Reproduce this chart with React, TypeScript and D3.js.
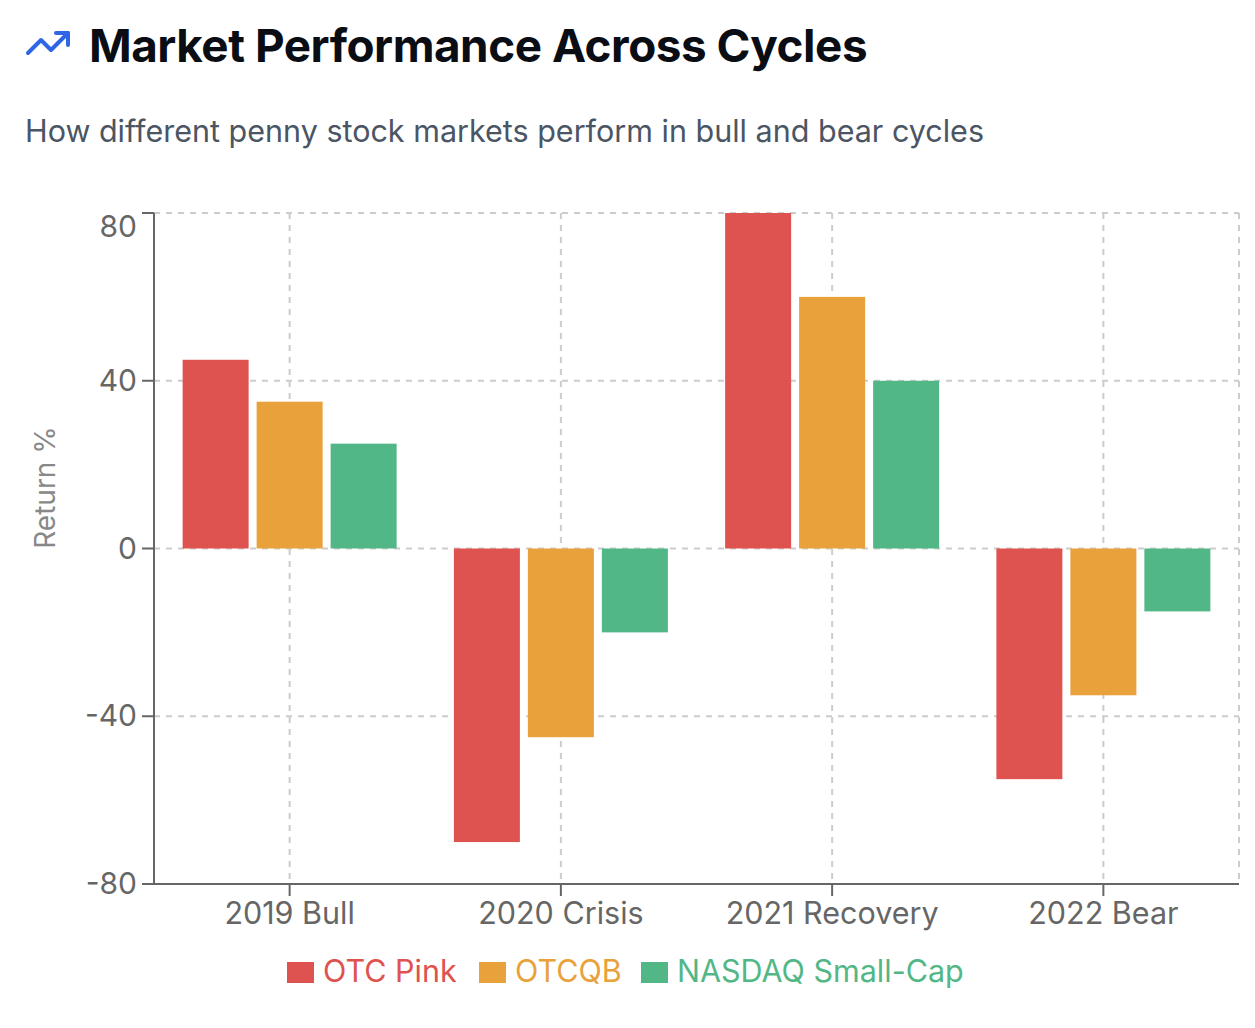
import React from 'react';
import * as d3 from 'd3';

const categories = ['2019 Bull', '2020 Crisis', '2021 Recovery', '2022 Bear'];
const seriesNames = ['OTC Pink', 'OTCQB', 'NASDAQ Small-Cap'];
const otcPink = [45, -70, 80, -55];
const otcqb = [35, -45, 60, -35];
const nasdaqSmallCap = [25, -20, 40, -15];
const yTicks = [-80, -40, 0, 40, 80];
const colors = ['#de524f', '#e8a13b', '#52b786'];

const W = 1255;
const H = 1028;
const margin = { top: 213, right: 16, bottom: 144, left: 154 };
const font = 'Inter, "Noto Sans", sans-serif';

const App: React.FC = () => {
  const values = [otcPink, otcqb, nasdaqSmallCap];
  const innerW = W - margin.left - margin.right;
  const innerH = H - margin.top - margin.bottom;

  const x = d3.scaleBand<string>().domain(categories).range([0, innerW]).padding(0);
  const groupW = 214;
  const xInner = d3
    .scaleBand<string>()
    .domain(seriesNames)
    .range([0, groupW])
    .paddingInner(8 / 74)
    .paddingOuter(0);
  const y = d3.scaleLinear().domain([-80, 80]).range([innerH, 0]);

  // legend positions (left edge of each swatch)
  const legendX = [287, 479, 641];

  return (
    <svg
      width={W}
      height={H}
      style={{ position: 'absolute', left: 0, top: 0, background: '#fff' }}
      fontFamily={font}
    >
      {/* title */}
      <g transform="translate(24,19) scale(2)" fill="none" stroke="#2f66e6" strokeWidth={2} strokeLinecap="round" strokeLinejoin="round">
        <polyline points="22 7 13.5 15.5 8.5 10.5 2 17" />
        <polyline points="16 7 22 7 22 13" />
      </g>
      <text x={89} y={62} fontSize={45.8} fontWeight={700} fill="#0a0d14" letterSpacing={-0.45}>
        Market Performance Across Cycles
      </text>
      <text x={25} y={142} fontSize={30.5} fill="#4b5563">
        How different penny stock markets perform in bull and bear cycles
      </text>

      <g transform={`translate(${margin.left},${margin.top})`}>
        {/* grid */}
        <g stroke="#cccccc" strokeWidth={2} strokeDasharray="6 6" fill="none">
          {yTicks.map((t) => (
            <line key={`h${t}`} x1={0} x2={innerW} y1={y(t)} y2={y(t)} />
          ))}
          {categories.map((c) => (
            <line key={`v${c}`} x1={x(c)! + x.bandwidth() / 2} x2={x(c)! + x.bandwidth() / 2} y1={0} y2={innerH} />
          ))}
          <line x1={innerW} x2={innerW} y1={0} y2={innerH} />
        </g>

        {/* bars */}
        {categories.map((c, ci) => {
          const gx = x(c)! + (x.bandwidth() - groupW) / 2;
          return (
            <g key={c} transform={`translate(${gx},0)`}>
              {seriesNames.map((s, si) => {
                const v = values[si][ci];
                return (
                  <rect
                    key={s}
                    x={xInner(s)}
                    y={y(Math.max(0, v))}
                    width={xInner.bandwidth()}
                    height={Math.abs(y(v) - y(0))}
                    fill={colors[si]}
                  />
                );
              })}
            </g>
          );
        })}

        {/* y axis */}
        <line x1={0} x2={0} y1={0} y2={innerH} stroke="#666" strokeWidth={2} />
        {yTicks.map((t) => (
          <g key={`yt${t}`} transform={`translate(0,${y(t)})`}>
            <line x1={-12} x2={0} stroke="#666" strokeWidth={2} />
            <text
              x={-17}
              dy={t === 80 ? 24 : 10}
              textAnchor="end"
              fontSize={30}
              fill="#666"
            >
              {t}
            </text>
          </g>
        ))}
        <text
          transform={`translate(-109,${innerH / 2 - 61}) rotate(-90)`}
          textAnchor="middle"
          dy={10}
          fontSize={28}
          fill="#888"
        >
          Return %
        </text>

        {/* x axis */}
        <line x1={0} x2={innerW} y1={innerH} y2={innerH} stroke="#666" strokeWidth={2} />
        {categories.map((c) => (
          <g key={`xt${c}`} transform={`translate(${x(c)! + x.bandwidth() / 2},${innerH})`}>
            <line y1={0} y2={12} stroke="#666" strokeWidth={2} />
            <text y={40} textAnchor="middle" fontSize={30.5} fill="#666">
              {c}
            </text>
          </g>
        ))}
      </g>

      {/* legend */}
      {seriesNames.map((name, i) => (
        <g key={name} transform={`translate(${legendX[i]},962)`}>
          <rect width={27} height={21} fill={colors[i]} />
          <text x={36} y={20} fontSize={30.5} fill={colors[i]}>
            {name}
          </text>
        </g>
      ))}
    </svg>
  );
};

export default App;
